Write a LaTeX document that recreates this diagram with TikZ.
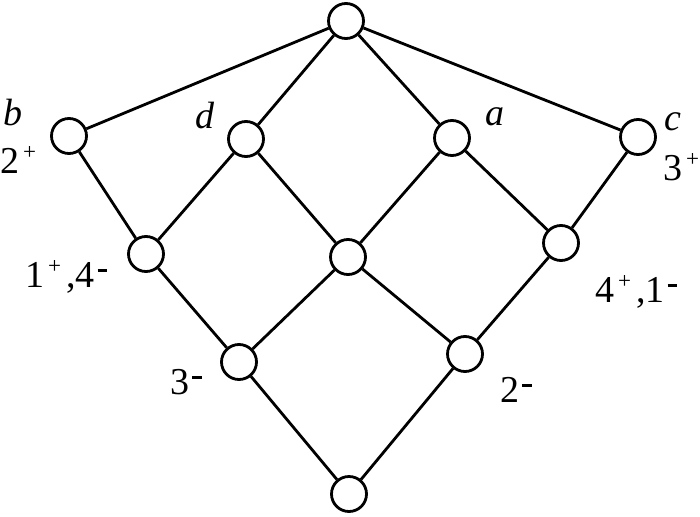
\documentclass[tikz,border=0pt]{standalone}
\usepackage{fontspec}
\setmainfont{Liberation Serif}
\tikzset{
  vtx/.style={circle, draw, line width=2.8pt, minimum size=35pt, inner sep=0pt, fill=white},
  lbl/.style={inner sep=0pt, anchor=base west, font=\fontsize{38}{40}\selectfont},
  edge/.style={line width=2.8pt}
}
\newcommand{\supplus}{\hspace{4pt}\raisebox{14pt}{\fontsize{23}{23}\selectfont +}\hspace{5pt}}
\newcommand{\supminus}{\hspace{3pt}\rule[15pt]{9.5pt}{3.5pt}}
\begin{document}
\begin{tikzpicture}[x=1pt,y=-1pt]
\useasboundingbox (0,0) rectangle (700,516);
\node[vtx] (top) at (346,21) {};
\node[vtx] (b) at (69,136) {};
\node[vtx] (d) at (246,139) {};
\node[vtx] (a) at (452,138) {};
\node[vtx] (c) at (638,137) {};
\node[vtx] (lm) at (146,254) {};
\node[vtx] (ce) at (348,257) {};
\node[vtx] (rm) at (561,243) {};
\node[vtx] (bl) at (239,362) {};
\node[vtx] (br) at (465,354) {};
\node[vtx] (bot) at (349,494) {};
\draw[edge] (top) -- (b);
\draw[edge] (top) -- (d);
\draw[edge] (top) -- (a);
\draw[edge] (top) -- (c);
\draw[edge] (b) -- (lm);
\draw[edge] (d) -- (lm);
\draw[edge] (d) -- (ce);
\draw[edge] (a) -- (ce);
\draw[edge] (a) -- (rm);
\draw[edge] (c) -- (rm);
\draw[edge] (lm) -- (bl);
\draw[edge] (ce) -- (bl);
\draw[edge] (ce) -- (br);
\draw[edge] (rm) -- (br);
\draw[edge] (bl) -- (bot);
\draw[edge] (br) -- (bot);
\node[lbl] (lb) at (3,125) {\itshape b};
\node[lbl] (l2p) at (0,173) {2\supplus};
\node[lbl] (ld) at (195,128) {\itshape d};
\node[lbl] (la) at (485,125) {\itshape a};
\node[lbl] (lc) at (664,130) {\itshape c};
\node[lbl] (l3p) at (663,180) {3\supplus};
\node[lbl] (l14) at (25,287) {1\supplus,4\supminus};
\node[lbl] (l41) at (595,302) {4\supplus,1\supminus};
\node[lbl] (l3m) at (170,394) {3\supminus};
\node[lbl] (l2m) at (500,402) {2\supminus};
\end{tikzpicture}
\end{document}
